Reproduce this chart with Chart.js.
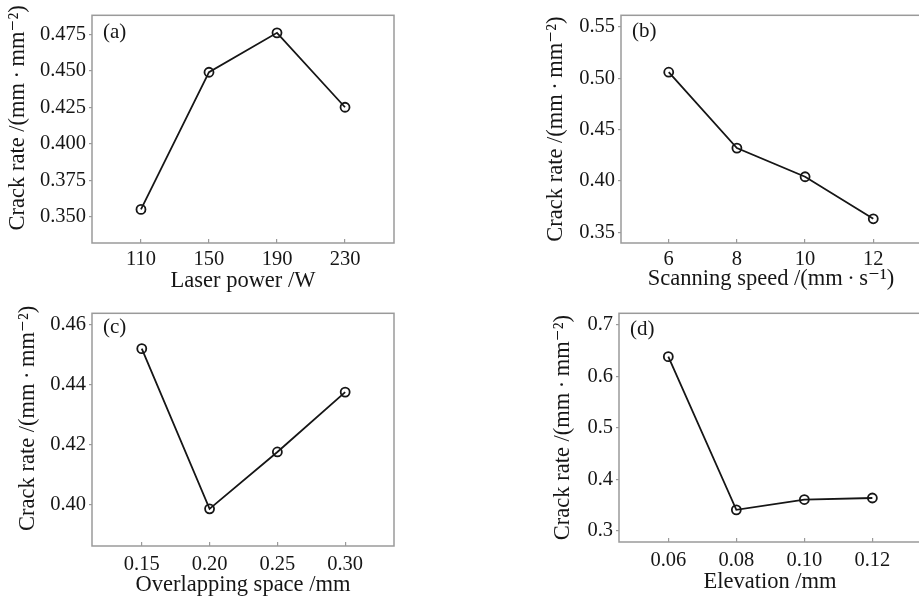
<!DOCTYPE html>
<html>
<head>
<meta charset="utf-8">
<script src="https://cdn.jsdelivr.net/npm/chart.js@4.4.0/dist/chart.umd.min.js"></script>
<style>
  html, body { margin: 0; padding: 0; background: #fff; overflow: hidden; width: 919px; height: 598px; }
  canvas { position: absolute; }
</style>
</head>
<body>
<canvas id="pa" width="459" height="298" style="left:0px;top:0px;width:459px;height:298px"></canvas>
<canvas id="pb" width="470" height="298" style="left:459px;top:0px;width:470px;height:298px"></canvas>
<canvas id="pc" width="459" height="300" style="left:0px;top:298px;width:459px;height:300px"></canvas>
<canvas id="pd" width="470" height="300" style="left:459px;top:298px;width:470px;height:300px"></canvas>
<script>
// (a) laser power
var powerX = [110, 150, 190, 230];
var powerCrack = [0.355, 0.449, 0.476, 0.425];
var powerYTicks = ['0.350', '0.375', '0.400', '0.425', '0.450', '0.475'];

// (b) scanning speed
var speedX = [6, 8, 10, 12];
var speedCrack = [0.506, 0.432, 0.404, 0.363];
var speedYTicks = ['0.35', '0.40', '0.45', '0.50', '0.55'];

// (c) overlapping space
var overlapX = ['0.15', '0.20', '0.25', '0.30'];
var overlapCrack = [0.452, 0.3985, 0.4175, 0.4375];
var overlapYTicks = ['0.40', '0.42', '0.44', '0.46'];

// (d) elevation
var elevX = ['0.06', '0.08', '0.10', '0.12'];
var elevCrack = [0.638, 0.341, 0.361, 0.364];
var elevYTicks = ['0.3', '0.4', '0.5', '0.6', '0.7'];

var yTitle = 'Crack rate /(mm\u2009\u00b7\u2009mm\u207b\u00b2)';
var serif = "'Liberation Serif', 'DejaVu Serif', serif";
var ink = '#161616';
var frame = '#9a9a9a';

// draws top/right frame and the panel letter
var framePlugin = {
    id: 'framePlugin',
    afterDraw: function (chart, args, opts) {
        var ctx = chart.ctx;
        var a = chart.chartArea;
        ctx.save();
        ctx.strokeStyle = frame;
        ctx.lineWidth = 1.5;
        ctx.strokeRect(a.left, a.top, a.right - a.left, a.bottom - a.top);
        ctx.fillStyle = ink;
        ctx.font = '21px ' + serif;
        ctx.textBaseline = 'middle';
        ctx.fillText(opts.letter, a.left + 11, a.top + opts.letterDy);
        ctx.restore();
    }
};

function makePanel(id, cfg) {
    var xVals = cfg.x.map(function (v) { return parseFloat(v); });
    var xLabels = cfg.x.map(function (v) { return String(v); });
    var yVals = cfg.yTicks.map(function (v) { return parseFloat(v); });
    var points = xVals.map(function (v, i) { return { x: v, y: cfg.y[i] }; });

    new Chart(document.getElementById(id), {
        type: 'line',
        data: {
            datasets: [{
                data: points,
                borderColor: ink,
                borderWidth: 1.8,
                pointStyle: 'circle',
                pointRadius: 4.5,
                pointBorderWidth: 1.8,
                pointBorderColor: ink,
                pointBackgroundColor: 'rgba(0,0,0,0)',
                tension: 0
            }]
        },
        options: {
            responsive: false,
            animation: false,
            devicePixelRatio: 1,
            layout: { padding: { top: cfg.padTop, right: cfg.padRight, left: 0, bottom: 0 } },
            plugins: {
                legend: { display: false },
                tooltip: { enabled: false },
                framePlugin: { letter: cfg.letter, letterDy: cfg.letterDy }
            },
            scales: {
                x: {
                    type: 'linear',
                    min: cfg.xMin,
                    max: cfg.xMax,
                    afterBuildTicks: function (s) { s.ticks = xVals.map(function (v) { return { value: v }; }); },
                    afterFit: function (s) { s.height = cfg.xHeight; },
                    border: { display: false },
                    grid: { drawOnChartArea: false, drawTicks: true, tickLength: -4, color: frame, tickColor: frame, lineWidth: 1.2 },
                    ticks: {
                        padding: cfg.xTickPad,
                        color: ink,
                        font: { family: serif, size: 20.5 },
                        callback: function (v) {
                            var i = xVals.indexOf(v);
                            return i >= 0 ? xLabels[i] : '';
                        }
                    },
                    title: {
                        display: true,
                        text: cfg.xTitle,
                        color: ink,
                        font: { family: serif, size: 22.5, lineHeight: 1.15 },
                        padding: { top: 0, bottom: cfg.xTitlePad }
                    }
                },
                y: {
                    type: 'linear',
                    min: cfg.yMin,
                    max: cfg.yMax,
                    afterBuildTicks: function (s) { s.ticks = yVals.map(function (v) { return { value: v }; }); },
                    afterFit: function (s) { s.width = cfg.yWidth; },
                    border: { display: false },
                    grid: { drawOnChartArea: false, drawTicks: true, tickLength: 3, color: frame, tickColor: frame, lineWidth: 1.2 },
                    ticks: {
                        padding: 3,
                        color: ink,
                        font: { family: serif, size: 20.5 },
                        callback: function (v) {
                            var i = yVals.indexOf(v);
                            return i >= 0 ? cfg.yTicks[i] : '';
                        }
                    },
                    title: {
                        display: true,
                        // left panels sit a little higher in the original
                        text: (cfg.yTitleLead || '') + yTitle,
                        color: ink,
                        font: { family: serif, size: 22.5, lineHeight: 1.15 },
                        padding: { top: cfg.yTitlePad, bottom: 0 }
                    }
                }
            }
        },
        plugins: [framePlugin]
    });
}

makePanel('pa', {
    x: powerX, y: powerCrack, yTicks: powerYTicks,
    xMin: 81.2, xMax: 258.8, yMin: 0.332, yMax: 0.488,
    padTop: 5, padRight: 65, yWidth: 92, xHeight: 55,
    xTitle: 'Laser power /W', xTitlePad: 4, yTitlePad: 5, xTickPad: 8, yTitleLead: '\u2003',
    letter: '(a)', letterDy: 17
});

makePanel('pb', {
    x: speedX, y: speedCrack, yTicks: speedYTicks,
    xMin: 4.6, xMax: 13.4, yMin: 0.3394, yMax: 0.5615,
    padTop: 6, padRight: 8, yWidth: 162, xHeight: 55,
    xTitle: 'Scanning speed /(mm\u2009\u00b7\u2009s\u207b\u00b9)', xTitlePad: 6, yTitlePad: 84, xTickPad: 8,
    letter: '(b)', letterDy: 16
});

makePanel('pc', {
    x: overlapX, y: overlapCrack, yTicks: overlapYTicks,
    xMin: 0.1133, xMax: 0.336, yMin: 0.3861, yMax: 0.4638,
    padTop: 12, padRight: 65, yWidth: 92, xHeight: 52,
    xTitle: 'Overlapping space /mm', xTitlePad: 0, yTitlePad: 15, xTickPad: 10, yTitleLead: '\u2003',
    letter: '(c)', letterDy: 14
});

makePanel('pd', {
    x: elevX, y: elevCrack, yTicks: elevYTicks,
    xMin: 0.0455, xMax: 0.1343, yMin: 0.2787, yMax: 0.722,
    padTop: 9, padRight: 8, yWidth: 160, xHeight: 56,
    xTitle: 'Elevation /mm', xTitlePad: 3, yTitlePad: 91, xTickPad: 10,
    letter: '(d)', letterDy: 16
});
</script>
</body>
</html>
